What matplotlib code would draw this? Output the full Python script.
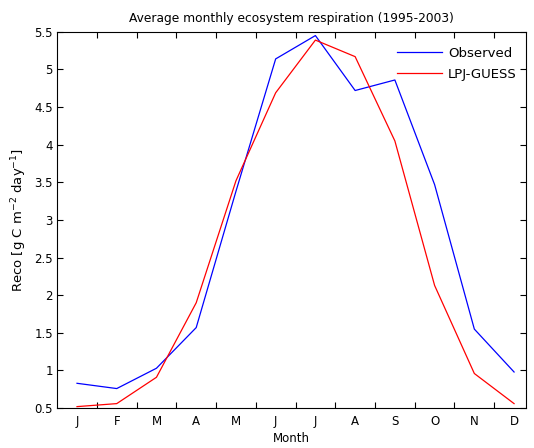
import numpy as np
import matplotlib
matplotlib.use('Agg')
import matplotlib.pyplot as plt

# monthly values
months = ['J', 'F', 'M', 'A', 'M', 'J', 'J', 'A', 'S', 'O', 'N', 'D']
observed = [0.83, 0.76, 1.03, 1.57, 3.38, 5.14, 5.45, 4.72, 4.86, 3.47, 1.55, 0.98]
lpj_guess = [0.52, 0.56, 0.91, 1.90, 3.52, 4.69, 5.39, 5.17, 4.05, 2.13, 0.96, 0.56]
yticks = [0.5, 1, 1.5, 2, 2.5, 3, 3.5, 4, 4.5, 5, 5.5]
ytick_labels = ['0.5', '1', '1.5', '2', '2.5', '3', '3.5', '4', '4.5', '5', '5.5']

plt.rcParams['font.family'] = ['DejaVu Sans']
plt.rcParams['font.size'] = 8.5
plt.rcParams['mathtext.default'] = 'regular'

fig = plt.figure(figsize=(5.34, 4.48), dpi=100)
ax = fig.add_axes([0.107, 0.089, 0.878, 0.840])

x = np.arange(1, 13)
ax.plot(x, observed, color='blue', lw=0.9, label='Observed')
ax.plot(x, lpj_guess, color='red', lw=0.9, label='LPJ-GUESS')

ax.set_xlim(0.5, 12.3)
ax.set_ylim(0.5, 5.5)
ax.set_xticks(x)
ax.set_xticklabels(months)
ax.set_xticks(np.arange(1.5, 12, 1), minor=True)
ax.set_yticks(yticks)
ax.set_yticklabels(ytick_labels)

# MATLAB look: ticks inside, on all sides; month ticks sit between labels
ax.tick_params(axis='x', which='major', length=0, pad=5)
ax.tick_params(axis='x', which='minor', direction='in', length=4, top=True, width=0.8)
ax.tick_params(axis='y', which='major', direction='in', length=4, right=True, width=0.8, pad=3)
for s in ax.spines.values():
    s.set_linewidth(0.8)

ax.set_title('Average monthly ecosystem respiration (1995-2003)', fontsize=8.8, pad=7)
ax.set_xlabel('Month', labelpad=3)
ax.set_ylabel('Reco [g C m$^{-2}$ day$^{-1}$]', fontsize=9.5, labelpad=4)

ax.legend(loc='upper right', bbox_to_anchor=(1.0, 0.985), frameon=False,
          fontsize=9.5, handlelength=3.4, handletextpad=0.45, labelspacing=0.6,
          borderaxespad=0.3)

plt.savefig('out.png', dpi=100)
